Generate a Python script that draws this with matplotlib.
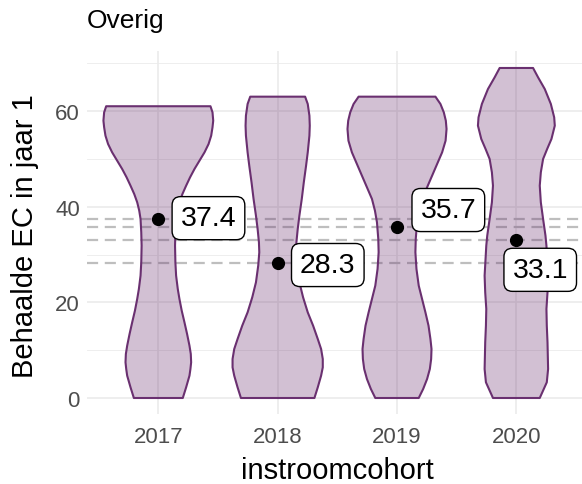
import numpy as np
import matplotlib
matplotlib.use('Agg')
import matplotlib.pyplot as plt

plt.rcParams['font.family'] = ['Liberation Sans', 'DejaVu Sans']

cohorts = ['2017', '2018', '2019', '2020']
means = [37.4, 28.3, 35.7, 33.1]

# violin outlines: y values and half widths (category units)
v2017_y = [61.0, 59.73, 57.98, 56.59, 54.85, 53.10, 51.36, 49.62, 47.88, 46.14, 44.39, 42.65, 40.91, 39.17,
           37.43, 34.64, 31.85, 28.37, 25.58, 22.79, 20.70, 18.26, 15.82, 13.38, 10.94, 9.20, 7.46, 6.06,
           4.67, 2.23, 0.0]
v2017_w = [0.437, 0.454, 0.460, 0.454, 0.443, 0.421, 0.387, 0.345, 0.303, 0.266, 0.233, 0.202, 0.177, 0.160,
           0.149, 0.143, 0.140, 0.143, 0.149, 0.163, 0.177, 0.196, 0.219, 0.241, 0.261, 0.272, 0.275, 0.269,
           0.261, 0.233, 0.205]
v2018_y = [63.0, 61.47, 59.03, 56.94, 54.85, 51.36, 48.57, 45.09, 41.61, 38.12, 35.33, 32.55, 30.46, 27.67,
           24.18, 21.05, 17.91, 15.12, 12.34, 10.24, 8.15, 6.41, 4.67, 2.23, 0.0]
v2018_w = [0.230, 0.252, 0.266, 0.269, 0.266, 0.252, 0.238, 0.219, 0.202, 0.182, 0.168, 0.157, 0.154, 0.163,
           0.182, 0.213, 0.252, 0.297, 0.336, 0.364, 0.378, 0.378, 0.364, 0.336, 0.308]
v2019_y = [63.0, 61.47, 59.73, 57.98, 56.24, 53.80, 51.36, 48.92, 46.48, 44.05, 41.61, 39.17, 36.73, 33.24,
           30.46, 26.97, 23.49, 20.70, 17.91, 15.12, 12.34, 10.24, 8.15, 6.06, 3.97, 1.88, 0.0]
v2019_w = [0.322, 0.364, 0.392, 0.409, 0.415, 0.407, 0.378, 0.336, 0.294, 0.252, 0.210, 0.185, 0.168, 0.157,
           0.154, 0.163, 0.182, 0.210, 0.238, 0.264, 0.280, 0.289, 0.286, 0.275, 0.252, 0.219, 0.182]
v2020_y = [69.0, 67.04, 64.60, 61.47, 58.68, 56.94, 54.15, 52.06, 49.97, 47.18, 44.39, 40.91, 37.43, 33.94,
           31.85, 25.58, 22.09, 18.61, 15.12, 11.64, 6.06, 3.28, 0.0]
v2020_w = [0.140, 0.182, 0.238, 0.289, 0.317, 0.322, 0.294, 0.258, 0.224, 0.205, 0.196, 0.205, 0.224, 0.244,
           0.252, 0.266, 0.261, 0.252, 0.255, 0.261, 0.266, 0.255, 0.196]

violins = [(v2017_y, v2017_w), (v2018_y, v2018_w), (v2019_y, v2019_w), (v2020_y, v2020_w)]

# label anchor offsets (repelled labels)
lab_dx = [0.42, 0.42, 0.43, 0.20]
lab_y = [37.6, 27.8, 39.3, 26.8]

purple = '#6A3070'

fig = plt.figure(figsize=(5.82, 4.85), dpi=100)
ax = fig.add_axes([0.149, 0.1433, 0.851, 0.7485])

ax.set_xlim(0.4, 4.55)
ax.set_ylim(-3.45, 72.45)

# grid
for yv in [10, 30, 50, 70]:
    ax.axhline(yv, color='#EBEBEB', lw=0.6, zorder=0)
for yv in [0, 20, 40, 60]:
    ax.axhline(yv, color='#EBEBEB', lw=1.2, zorder=0)
for i in range(len(cohorts)):
    ax.axvline(i + 1, color='#EBEBEB', lw=1.2, zorder=0)

for m in means:
    ax.axhline(m, color='#BEBEBE', lw=1.6, ls=(0, (5, 3)), zorder=1)

for i, (vy, vw) in enumerate(violins):
    x = i + 1
    vy = np.array(vy)
    vw = np.array(vw)
    xs = np.concatenate([x - vw, (x + vw)[::-1]])
    ys = np.concatenate([vy, vy[::-1]])
    ax.fill(xs, ys, facecolor=purple, alpha=0.3, edgecolor='none', zorder=2)
    ax.fill(xs, ys, facecolor='none', edgecolor=purple, lw=1.5, zorder=3, joinstyle='round')

xpos = np.arange(1, len(cohorts) + 1)
ax.plot(xpos, means, 'o', color='black', ms=8.5, zorder=4)

for i, m in enumerate(means):
    ax.text(xpos[i] + lab_dx[i], lab_y[i], '%.1f' % m, fontsize=20.5, ha='center', va='center',
            zorder=5, bbox=dict(boxstyle='round,pad=0.3,rounding_size=0.3', fc='white', ec='black', lw=1))

ax.set_xticks(xpos)
ax.set_xticklabels(cohorts)
ax.set_yticks([0, 20, 40, 60])
ax.tick_params(axis='both', length=0, labelsize=16, colors='#4D4D4D')
ax.tick_params(axis='x', pad=8)
ax.tick_params(axis='y', pad=5)
for s in ax.spines.values():
    s.set_visible(False)

fig.text(0.5795, 0.012, 'instroomcohort', fontsize=21, ha='center', va='baseline')
fig.text(0.043, 0.5135, 'Behaalde EC in jaar 1', fontsize=21, ha='center', va='center', rotation=90)
fig.text(87 / 582, 1 - 28 / 485, 'Overig', fontsize=19, ha='left', va='baseline')

plt.savefig('out.png', dpi=100)
